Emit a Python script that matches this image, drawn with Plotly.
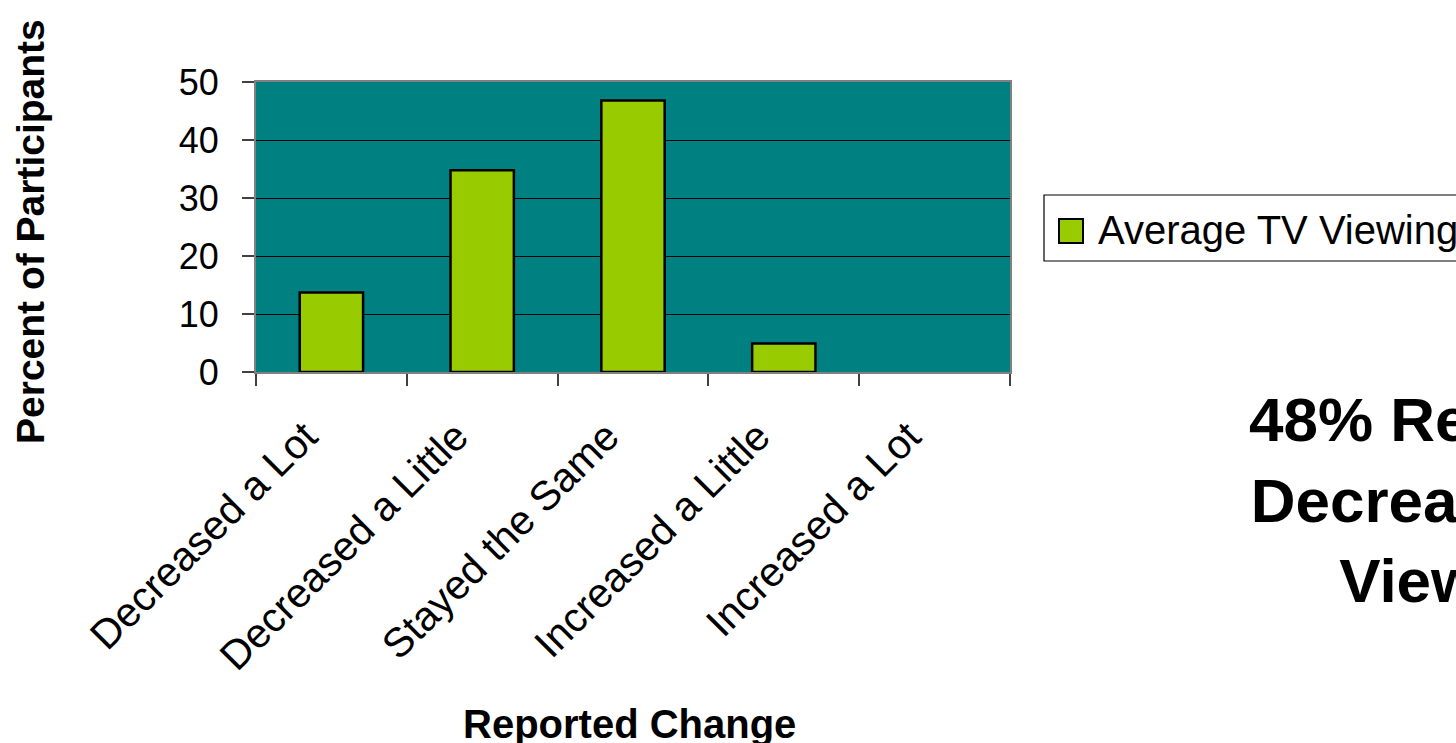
import plotly.graph_objects as go

categories = ["Decreased a Lot", "Decreased a Little", "Stayed the Same",
              "Increased a Little", "Increased a Lot"]
values = [13.7, 34.8, 46.8, 4.9, 0.0]
series_name = "Average TV Viewing"
y_ticks = [0, 10, 20, 30, 40, 50]
x_title = "Reported Change"
y_title = "Percent of Participants"
callout = "48% Reported<br>Decreased TV<br>Viewing"

FONT = "Liberation Sans, Arial, sans-serif"
BAR = "#99CC00"
TEAL = "#008080"

# no outline drawn for empty (zero-height) bars
bar_line_widths = [2.5 if v > 0 else 0 for v in values]

fig = go.Figure()
fig.add_trace(go.Bar(
    x=categories, y=values, name=series_name,
    marker=dict(color=BAR, line=dict(color="black", width=bar_line_widths)),
    showlegend=False,
))

W, H = 1456, 743
L, R, T, B = 256, 1010, 82, 372

def px(x):
    return (x - L) / (R - L)

def py(y):
    return (B - y) / (B - T)

shapes = [
    # legend box
    dict(type="rect", xref="paper", yref="paper",
         x0=px(1044), x1=px(1520), y0=py(261), y1=py(195),
         line=dict(color="black", width=1.2), fillcolor="white", layer="above"),
    # legend swatch
    dict(type="rect", xref="paper", yref="paper",
         x0=px(1059), x1=px(1083), y0=py(243), y1=py(219),
         line=dict(color="black", width=2), fillcolor=BAR, layer="above"),
]

annotations = [
    dict(text=series_name, xref="paper", yref="paper", x=px(1096), y=py(230),
         xanchor="left", yanchor="middle", showarrow=False,
         font=dict(family=FONT, size=40, color="black")),
    dict(text="<b>" + callout + "</b>", xref="paper", yref="paper",
         x=px(1455), y=py(500),
         xanchor="center", yanchor="middle", showarrow=False, align="center",
         font=dict(family=FONT, size=62, color="black")),
    dict(text="<b>" + x_title + "</b>", xref="paper", yref="paper",
         x=px(629), y=py(724), xanchor="center", yanchor="middle",
         showarrow=False, font=dict(family=FONT, size=40, color="black")),
    dict(text="<b>" + y_title + "</b>", xref="paper", yref="paper",
         x=px(31), y=py(232), xanchor="center", yanchor="middle",
         showarrow=False, textangle=-90,
         font=dict(family=FONT, size=39, color="black")),
]

fig.update_layout(
    width=W, height=H,
    margin=dict(l=L, r=W - R, t=T, b=H - B, autoexpand=False, pad=0),
    paper_bgcolor="white",
    plot_bgcolor=TEAL,
    bargap=0.58,
    shapes=shapes,
    annotations=annotations,
    font=dict(family=FONT, color="black"),
)

fig.update_xaxes(
    type="category", tickson="boundaries",
    ticks="outside", ticklen=12, tickwidth=1.5, tickcolor="#404040",
    tickangle=-45, tickfont=dict(family=FONT, size=41, color="black"),
    ticklabelstandoff=22, ticklabelshift=-26,
    showline=True, linecolor="#808080", linewidth=2, mirror=True,
    showgrid=False, automargin=False,
)
fig.update_yaxes(
    range=[0, 50], tickvals=y_ticks, ticks="outside", ticklen=12,
    tickwidth=1.5, tickcolor="#404040",
    tickfont=dict(family=FONT, size=36, color="black"),
    ticklabelstandoff=16,
    showline=True, linecolor="#808080", linewidth=2, mirror=True,
    showgrid=True, gridcolor="black", gridwidth=1,
    zeroline=False, automargin=False,
)

fig.write_html("out.html")
